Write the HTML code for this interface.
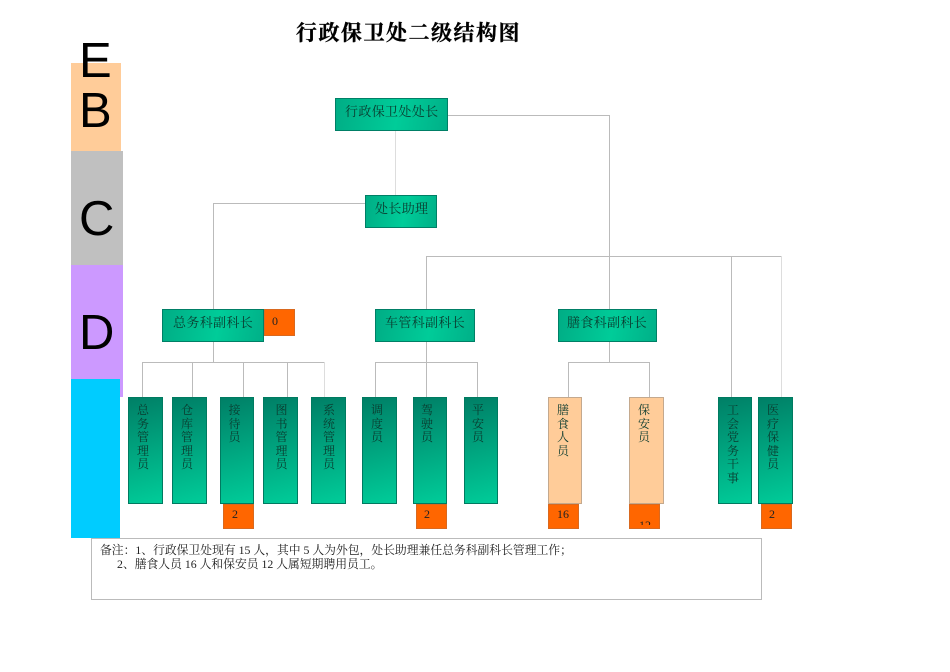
<!DOCTYPE html>
<html lang="zh"><head><meta charset="utf-8"><style>
html,body{margin:0;padding:0;background:#fff}
#p{position:relative;width:950px;height:672px;overflow:hidden;background:#fff;font-family:"Liberation Serif","Noto Serif CJK SC",serif}
#p div{position:absolute;box-sizing:border-box}
.l{background:#bbb}
.n{background:linear-gradient(100deg,#00ad85 0%,#00cc99 55%,#00b088 100%);border:1px solid #007f66;height:33px;top:309px}
.v{top:397px;height:107px;background:linear-gradient(165deg,#007f66 0%,#00cc99 100%);border:1px solid #007a60}
.pe{top:397px;height:107px;background:#ffcc99;border:1px solid #c4a98e}
.o{background:#ff6600;border:1px solid #d9691f;top:504px;height:25px;width:31px;overflow:hidden}
.t{white-space:nowrap;font-size:13px;line-height:16px;letter-spacing:.35px;color:#0a3a2e}
.vt{font-size:12px;line-height:13.5px;width:14px;text-align:center;top:404px;color:#0a3a2e}
.d{font-size:12px;line-height:14px;color:#222;white-space:nowrap}
.b{font-family:"Liberation Sans",sans-serif;font-size:49px;line-height:49px;color:#000}
</style></head><body><div id="p">
<div style="left:71px;top:63px;width:50px;height:88px;background:#ffcc99"></div>
<div style="left:71px;top:151px;width:52px;height:114px;background:#c0c0c0"></div>
<div style="left:71px;top:265px;width:52px;height:132px;background:#cc99ff"></div>
<div style="left:71px;top:379px;width:49px;height:159px;background:#00ccff"></div>
<div class="b" style="left:79px;top:37px">E</div>
<div class="b" style="left:79px;top:87px">B</div>
<div class="b" style="left:79px;top:195px">C</div>
<div class="b" style="left:79px;top:309px">D</div>
<div style="left:296px;top:19px;white-space:nowrap;font-size:21px;line-height:28px;font-weight:bold;letter-spacing:1.5px;color:#000;-webkit-text-stroke:.35px #000">行政保卫处二级结构图</div>

<div class="l" style="left:448px;top:115px;width:162px;height:1px"></div>
<div class="l" style="left:609px;top:115px;width:1px;height:194px"></div>
<div class="l" style="left:426px;top:256px;width:356px;height:1px"></div>
<div class="l" style="left:426px;top:256px;width:1px;height:53px"></div>
<div class="l" style="left:731px;top:256px;width:1px;height:141px"></div>
<div class="l" style="left:781px;top:256px;width:1px;height:141px;background:#ddd"></div>
<div class="l" style="left:395px;top:131px;width:1px;height:64px;background:#ddd"></div>
<div class="l" style="left:213px;top:203px;width:152px;height:1px"></div>
<div class="l" style="left:213px;top:203px;width:1px;height:106px"></div>
<div class="l" style="left:213px;top:342px;width:1px;height:20px"></div>
<div class="l" style="left:142px;top:362px;width:183px;height:1px"></div>
<div class="l" style="left:142px;top:362px;width:1px;height:35px"></div>
<div class="l" style="left:192px;top:362px;width:1px;height:35px"></div>
<div class="l" style="left:243px;top:362px;width:1px;height:35px"></div>
<div class="l" style="left:287px;top:362px;width:1px;height:35px"></div>
<div class="l" style="left:324px;top:362px;width:1px;height:35px;background:#ddd"></div>
<div class="l" style="left:426px;top:342px;width:1px;height:55px"></div>
<div class="l" style="left:375px;top:362px;width:103px;height:1px"></div>
<div class="l" style="left:375px;top:362px;width:1px;height:35px"></div>
<div class="l" style="left:477px;top:362px;width:1px;height:35px"></div>
<div class="l" style="left:609px;top:342px;width:1px;height:20px"></div>
<div class="l" style="left:568px;top:362px;width:82px;height:1px"></div>
<div class="l" style="left:568px;top:362px;width:1px;height:35px"></div>
<div class="l" style="left:649px;top:362px;width:1px;height:35px"></div>

<div class="n" style="left:335px;top:98px;width:113px"></div>
<div class="t" style="left:345px;top:104px">行政保卫处处长</div>
<div class="n" style="left:365px;top:195px;width:72px"></div>
<div class="t" style="left:375px;top:201px">处长助理</div>
<div class="n" style="left:162px;width:102px"></div>
<div class="t" style="left:173px;top:315px">总务科副科长</div>
<div class="n" style="left:375px;width:100px"></div>
<div class="t" style="left:385px;top:315px">车管科副科长</div>
<div class="n" style="left:558px;width:99px"></div>
<div class="t" style="left:567px;top:315px">膳食科副科长</div>
<div class="o" style="left:264px;top:309px;height:27px"></div>
<div class="d" style="left:272px;top:314px">0</div>

<div class="v" style="left:128px;width:35px"></div><div class="vt" style="left:136px">总<br>务<br>管<br>理<br>员</div>
<div class="v" style="left:172px;width:35px"></div><div class="vt" style="left:180px">仓<br>库<br>管<br>理<br>员</div>
<div class="v" style="left:220px;width:34px"></div><div class="vt" style="left:227.5px">接<br>待<br>员</div>
<div class="v" style="left:263px;width:35px"></div><div class="vt" style="left:274.5px">图<br>书<br>管<br>理<br>员</div>
<div class="v" style="left:311px;width:35px"></div><div class="vt" style="left:322px">系<br>统<br>管<br>理<br>员</div>
<div class="v" style="left:362px;width:35px"></div><div class="vt" style="left:370px">调<br>度<br>员</div>
<div class="v" style="left:413px;width:34px"></div><div class="vt" style="left:420px">驾<br>驶<br>员</div>
<div class="v" style="left:464px;width:34px"></div><div class="vt" style="left:471px">平<br>安<br>员</div>
<div class="pe" style="left:548px;width:34px"></div><div class="vt" style="left:556px">膳<br>食<br>人<br>员</div>
<div class="pe" style="left:629px;width:35px"></div><div class="vt" style="left:637px">保<br>安<br>员</div>
<div class="v" style="left:718px;width:34px"></div><div class="vt" style="left:726px">工<br>会<br>党<br>务<br>干<br>事</div>
<div class="v" style="left:758px;width:35px"></div><div class="vt" style="left:766px">医<br>疗<br>保<br>健<br>员</div>

<div class="o" style="left:223px"></div><div class="d" style="left:232px;top:507px">2</div>
<div class="o" style="left:416px"></div><div class="d" style="left:424px;top:507px">2</div>
<div class="o" style="left:548px"></div><div class="d" style="left:557px;top:507px">16</div>
<div class="o" style="left:629px"><div style="left:0;top:0;width:29px;height:20px;overflow:hidden"><div class="d" style="left:9px;top:13px">12</div></div></div>
<div class="o" style="left:761px"></div><div class="d" style="left:769px;top:507px">2</div>

<div style="left:91px;top:538px;width:671px;height:62px;border:1px solid #bbb;background:#fff"></div>
<div style="left:100px;top:543px;font-size:11.8px;line-height:14px;color:#222;white-space:nowrap">备注：1、行政保卫处现有 15 人，其中 5 人为外包，处长助理兼任总务科副科长管理工作；</div>
<div style="left:117px;top:557px;font-size:11.8px;line-height:14px;color:#222;white-space:nowrap">2、膳食人员 16 人和保安员 12 人属短期聘用员工。</div>
</div></body></html>
